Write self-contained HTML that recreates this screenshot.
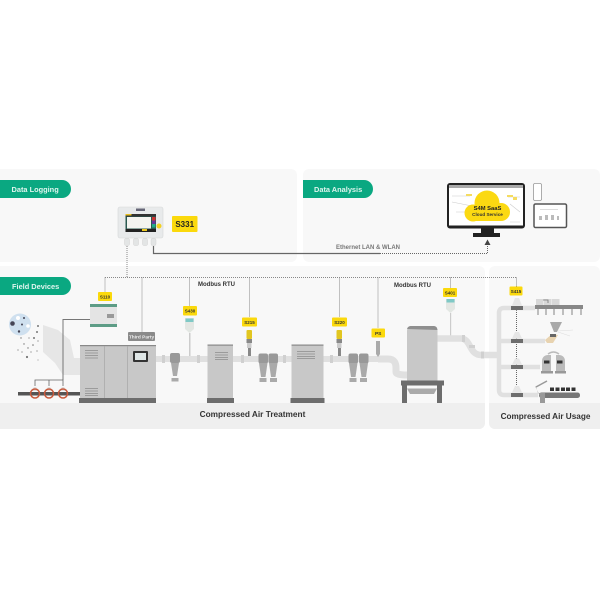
<!DOCTYPE html>
<html><head><meta charset="utf-8"><style>
html,body{margin:0;padding:0;background:#fff}
svg{display:block;filter:blur(0.3px)}
text{font-family:"Liberation Sans",sans-serif}
</style></head><body>
<svg width="600" height="600" viewBox="0 0 600 600" xmlns="http://www.w3.org/2000/svg">
<rect width="600" height="600" fill="#fff"/>
<!-- panels -->
<path d="M0 169H291a6 6 0 0 1 6 6V256a6 6 0 0 1 -6 6H0Z" fill="#f8f8f8"/>
<rect x="303" y="169" width="297" height="93" rx="6" fill="#f8f8f8"/>
<path d="M0 266H479a6 6 0 0 1 6 6V423a6 6 0 0 1 -6 6H0Z" fill="#f8f8f8"/>
<rect x="489" y="266" width="111" height="163" rx="6" fill="#f8f8f8"/>
<path d="M0 403H485V423a6 6 0 0 1 -6 6H0Z" fill="#efefef"/>
<path d="M489 403H600V429H495a6 6 0 0 1 -6 -6Z" fill="#efefef"/>
<!-- green tabs -->
<path d="M0 180H62a9 9 0 0 1 0 18H0Z" fill="#0aa881"/>
<path d="M303 180H364a9 9 0 0 1 0 18H303Z" fill="#0aa881"/>
<path d="M0 277H62a9 9 0 0 1 0 18H0Z" fill="#0aa881"/>
<text x="11.500" y="192" font-size="7.400" font-weight="700" fill="#dff5ee">Data Logging</text>
<text x="314" y="192" font-size="7.400" font-weight="700" fill="#dff5ee">Data Analysis</text>
<text x="12" y="289" font-size="7.400" font-weight="700" fill="#dff5ee">Field Devices</text>
<!-- connectors -->
<path d="M153.500 246V253.500H380" fill="none" stroke="#666" stroke-width="1.200"/>
<path d="M380 253.500H487.500V244" fill="none" stroke="#666" stroke-width="1" stroke-dasharray="1 1"/>
<path d="M487.500 239.500L484.500 245H490.500Z" fill="#444"/>
<g fill="none" stroke="#888" stroke-width="1" stroke-dasharray="1 1">
<path d="M127 246V277"/>
<path d="M105 277.500H516.500"/>
<path d="M105 277.500V292"/>
<path d="M142 277.500V332"/>
<path d="M189.500 277.500V306"/>
<path d="M249.500 277.500V317"/>
<path d="M339.500 277.500V317"/>
<path d="M378 277.500V328"/>
<path d="M450.500 277.500V288"/>
<path d="M516.500 277.500V287"/>
<path d="M516.500 310V392" stroke="#666"/>
</g>
<text x="368" y="249" font-size="6" font-weight="700" fill="#777" text-anchor="middle">Ethernet LAN &amp; WLAN</text>
<text x="216.500" y="286" font-size="6" font-weight="700" fill="#333" text-anchor="middle">Modbus RTU</text>
<text x="412.500" y="287" font-size="6" font-weight="700" fill="#333" text-anchor="middle">Modbus RTU</text>
<text x="252.500" y="417" font-size="8.300" font-weight="700" fill="#333" text-anchor="middle">Compressed Air Treatment</text>
<text x="545.500" y="419" font-size="8.200" font-weight="700" fill="#333" text-anchor="middle">Compressed Air Usage</text>

<!-- S331 device -->
<rect x="118" y="207" width="45" height="31" rx="2" fill="#e8eaeb" stroke="#d5d7d8" stroke-width="0.600"/>
<rect x="136" y="208.500" width="9" height="2.500" fill="#667"/>
<rect x="125.500" y="214" width="30.500" height="18" fill="#2a5a50"/>
<rect x="125.500" y="214" width="30.500" height="2.500" fill="#333"/>
<rect x="127" y="217" width="24" height="11.500" fill="#f4f4f0"/>
<rect x="152" y="217" width="3.500" height="3.500" fill="#c33"/>
<rect x="152" y="220.500" width="3.500" height="3.500" fill="#639"/>
<rect x="152" y="224" width="3.500" height="3.500" fill="#2a8"/>
<rect x="125.500" y="214" width="6" height="1.500" fill="#e8c020"/>
<rect x="125.500" y="229" width="30.500" height="3" fill="#222"/>
<rect x="142" y="229" width="5" height="2" fill="#ecc820"/>
<circle cx="159" cy="226" r="2.500" fill="#f3d020"/>
<g fill="#e3e5e5" stroke="#ccc" stroke-width="0.400">
<rect x="124.500" y="238.500" width="5" height="7" rx="1.500"/>
<rect x="133.500" y="238.500" width="5" height="7" rx="1.500"/>
<rect x="142.500" y="238.500" width="5" height="7" rx="1.500"/>
<rect x="151" y="238.500" width="5" height="7" rx="1.500"/>
</g>
<rect x="172" y="216" width="25.500" height="16" rx="1" fill="#fbd90c"/>
<text x="184.700" y="227" font-size="8" font-weight="700" fill="#222" text-anchor="middle">S331</text>

<!-- monitor -->
<rect x="448" y="184" width="76" height="43.500" rx="2" fill="#fff" stroke="#222" stroke-width="2"/>
<rect x="449" y="185" width="74" height="3" fill="#aaa"/>
<g stroke="#ccc" stroke-width="0.600" fill="none">
<path d="M452 196H470M452 202L472 206M456 212H472M508 197H520M510 204L520 212M510 222H520"/>
</g>
<rect x="466" y="194" width="6" height="2" fill="#f5dc60"/>
<rect x="507" y="195" width="6" height="2" fill="#f5dc60"/>
<rect x="513" y="197" width="4" height="3" fill="#f5dc60"/>
<g fill="#fbd912">
<circle cx="487" cy="203" r="12.500"/>
<circle cx="473" cy="213" r="8.500"/>
<circle cx="501" cy="212" r="9"/>
<rect x="473" y="208" width="28" height="13"/>
</g>
<text x="487.500" y="210" font-size="5.800" font-weight="700" fill="#222" text-anchor="middle">S4M SaaS</text>
<text x="487.500" y="216" font-size="4.600" font-weight="700" fill="#333" text-anchor="middle">Cloud Service</text>
<rect x="449" y="225.500" width="74" height="1.500" fill="#222"/>
<rect x="481" y="228" width="13" height="5.500" fill="#222"/>
<rect x="473" y="233" width="27" height="4" fill="#222"/>
<!-- phone -->
<rect x="533.500" y="183.500" width="8" height="17" rx="1.500" fill="#fff" stroke="#999" stroke-width="0.800"/>
<!-- tablet -->
<rect x="534" y="204" width="32.500" height="23.500" rx="1.500" fill="#fff" stroke="#555" stroke-width="1.500"/>
<g fill="#bbb"><rect x="539" y="216" width="3" height="4"/><rect x="545" y="215" width="3" height="5"/><rect x="551" y="215" width="3" height="5"/><rect x="557" y="216" width="2" height="4"/></g>
<rect x="540" y="209" width="18" height="1" fill="#ddd"/>

<!-- field left -->
<circle cx="20" cy="324.500" r="11" fill="#cfe0ef"/>
<g fill="#445">
<circle cx="12.500" cy="323.500" r="2.300"/><circle cx="19" cy="331.500" r="1.200"/><circle cx="22" cy="324.500" r="1"/><circle cx="24" cy="318" r="1"/>
</g>
<circle cx="18" cy="318" r="2" fill="#fff"/><circle cx="28" cy="326" r="1.800" fill="#fff"/>
<g fill="#777">
<circle cx="38" cy="326" r="1"/><circle cx="37" cy="332" r="1"/><circle cx="34" cy="338" r="1"/><circle cx="29" cy="338" r="0.600"/><circle cx="21" cy="338" r="0.700"/><circle cx="24" cy="344" r="0.700"/><circle cx="33" cy="345" r="0.800"/><circle cx="38" cy="341" r="0.600"/><circle cx="28" cy="348" r="0.700"/><circle cx="27" cy="357" r="1.100"/><circle cx="18" cy="350" r="0.600"/><circle cx="37" cy="351" r="0.600"/><circle cx="31" cy="352" r="0.600"/><circle cx="22" cy="352" r="0.600"/><circle cx="38" cy="360" r="0.500"/>
</g>
<!-- duct -->
<path d="M43 325L58 330L70 340L74 358H80V375H63L55 363L43 352Z" fill="#e6e6e6"/>
<!-- S110 line -->
<path d="M90 319.500H63V380" fill="none" stroke="#777" stroke-width="1"/>
<path d="M35 386V380H63V386M49 380V386" fill="none" stroke="#666" stroke-width="0.800"/>
<rect x="90" y="304" width="27" height="23" fill="#e4e4e4"/>
<rect x="90" y="304" width="27" height="3" fill="#5d9c86"/>
<rect x="90" y="324" width="27" height="3" fill="#5d9c86"/>
<rect x="107" y="314" width="7" height="4" fill="#999"/>
<rect x="98" y="292" width="14" height="9" rx="1" fill="#fbd90c"/>
<text x="105" y="298.500" font-size="4.500" font-weight="700" fill="#333" text-anchor="middle">S110</text>
<rect x="128" y="332" width="27" height="9" rx="1" fill="#8a8a8a"/>
<text x="141.500" y="338.500" font-size="4.800" font-weight="700" fill="#eee" text-anchor="middle">Third Party</text>
<!-- header pipe and nozzles -->
<rect x="18" y="392" width="62" height="3.500" fill="#555"/>
<path d="M34 387L31 391H39L36 387ZM48 387L45 391H53L50 387ZM62 387L59 391H67L64 387Z" fill="#ddd"/>
<g fill="none" stroke="#c85a3c" stroke-width="1.500">
<circle cx="35" cy="393.500" r="4.500"/><circle cx="49" cy="393.500" r="4.500"/><circle cx="63" cy="393.500" r="4.500"/>
</g>
<!-- compressor -->
<rect x="80" y="345" width="76" height="53" fill="#c8c8c8"/>
<rect x="80" y="345" width="76" height="1.200" fill="#888"/>
<path d="M104.500 346V398M127.500 346V398" stroke="#aaa" stroke-width="0.800"/>
<rect x="79" y="398" width="77" height="5" fill="#6d6d6d"/>
<g stroke="#8c8c8c" stroke-width="0.800">
<path d="M85 350.500H98M85 353H98M85 355.500H98M85 358H98"/>
<path d="M85 388.500H98M85 391H98M85 393.500H98M85 395.500H98"/>
</g>
<rect x="133" y="351" width="15" height="11" rx="1" fill="#333"/>
<rect x="135" y="353" width="11" height="7" fill="#dfe6e6"/>
<!-- main pipes -->
<rect x="156" y="356" width="52" height="6" fill="#e0e0e0"/>
<rect x="233" y="356" width="59" height="6" fill="#e0e0e0"/>
<rect x="323" y="356" width="57" height="6" fill="#e0e0e0"/>
<rect x="162" y="355" width="3" height="8" fill="#d0d0d0"/>
<rect x="197" y="355" width="3" height="8" fill="#d0d0d0"/>
<rect x="241" y="355" width="3" height="8" fill="#d0d0d0"/>
<rect x="283" y="355" width="3" height="8" fill="#d0d0d0"/>
<rect x="330" y="355" width="3" height="8" fill="#d0d0d0"/>
<path d="M378 359H388C395 359 396 364 396 368V372Q396 375 407 375" fill="none" stroke="#e0e0e0" stroke-width="7"/>
<!-- filter 1 -->
<rect x="170" y="353" width="10" height="10" rx="2" fill="#999"/>
<path d="M171 363H179L177 376H173Z" fill="#aaa"/>
<rect x="171.500" y="378" width="7" height="3.500" fill="#aaa"/>
<!-- S430 -->
<rect x="183" y="306" width="14" height="9.500" rx="1" fill="#fbd90c"/>
<text x="190" y="312.700" font-size="4.500" font-weight="700" fill="#333" text-anchor="middle">S430</text>
<path d="M185 318H194V329L189.500 333L185 329Z" fill="#e3e7e3"/>
<rect x="185.500" y="318.500" width="8" height="3.500" fill="#7fc9c6"/>
<rect x="189" y="333" width="1.500" height="23" fill="#ccc"/>
<!-- dryer 1 -->
<rect x="207.500" y="345" width="25.500" height="53" fill="#c8c8c8"/>
<rect x="207.500" y="344.500" width="25.500" height="1.200" fill="#888"/>
<rect x="207" y="398" width="27" height="5" fill="#6d6d6d"/>
<g stroke="#8c8c8c" stroke-width="0.700"><path d="M215 352.500H228M215 355H228M215 357.500H228M215 359.500H228"/></g>
<!-- S215 -->
<rect x="242" y="317.500" width="15" height="9" rx="1" fill="#fbd90c"/>
<text x="249.500" y="324" font-size="4.500" font-weight="700" fill="#333" text-anchor="middle">S215</text>
<rect x="246.500" y="330" width="5.500" height="9" rx="1" fill="#e2c620"/>
<rect x="246.500" y="339" width="5.500" height="4" fill="#888"/>
<rect x="247" y="343" width="4.500" height="5" fill="#ccc"/>
<rect x="248" y="348" width="3" height="8" fill="#888"/>
<!-- filters 2 -->
<g fill="#999"><rect x="258.500" y="353.500" width="9.500" height="10" rx="2"/><rect x="268.500" y="353.500" width="9.500" height="10" rx="2"/></g>
<g fill="#aaa"><path d="M259 363H267.500L265.500 377H261Z"/><path d="M269 363H277.500L275.500 377H271Z"/><rect x="259.500" y="378" width="7" height="4"/><rect x="270" y="378" width="7" height="4"/></g>
<!-- dryer 2 -->
<rect x="291.500" y="345" width="32" height="53" fill="#c8c8c8"/>
<rect x="291.500" y="344.500" width="32" height="1.200" fill="#888"/>
<rect x="290.500" y="398" width="34" height="5" fill="#6d6d6d"/>
<g stroke="#8c8c8c" stroke-width="0.700"><path d="M297 351.500H315M297 354H315M297 356.500H315M297 358.500H315"/></g>
<!-- S220 -->
<rect x="332" y="317.500" width="15" height="9" rx="1" fill="#fbd90c"/>
<text x="339.500" y="324" font-size="4.500" font-weight="700" fill="#333" text-anchor="middle">S220</text>
<rect x="336.500" y="330" width="5.500" height="9" rx="1" fill="#e2c620"/>
<rect x="336.500" y="339" width="5.500" height="4" fill="#888"/>
<rect x="337" y="343" width="4.500" height="5" fill="#ccc"/>
<rect x="338" y="348" width="3" height="8" fill="#888"/>
<!-- filters 3 -->
<g fill="#999"><rect x="348.500" y="353.500" width="9.500" height="10" rx="2"/><rect x="359" y="353.500" width="9.500" height="10" rx="2"/></g>
<g fill="#aaa"><path d="M349 363H357.500L355.500 377H351Z"/><path d="M359.500 363H368L366 377H361.500Z"/><rect x="349.500" y="378" width="7" height="4"/><rect x="360" y="378" width="7" height="4"/></g>
<!-- PS -->
<rect x="371.500" y="328.500" width="13.500" height="9" rx="1" fill="#fbd90c"/>
<text x="378.200" y="335" font-size="4.800" font-weight="700" fill="#333" text-anchor="middle">PS</text>
<path d="M376 341H380L380 354L378 357L376 354Z" fill="#aaa"/>
<!-- tank -->
<path d="M407 331C407 327 410 326 412 326H433C436 326 437.500 328 437.500 331V381H407Z" fill="#c8c8c8"/>
<path d="M407 329C408 326 410 326 412 326H433C436 326 437 327 437.500 330Z" fill="#8f8f8f"/>
<path d="M401 380.500H444V385.500H442V403H437V385.500H407V403H402V385.500H401Z" fill="#6d6d6d"/>
<path d="M407 388.500H437L434 394H410Z" fill="#aaa"/>
<!-- S401 -->
<rect x="443" y="288" width="14" height="9" rx="1" fill="#fbd90c"/>
<text x="450" y="294.500" font-size="4.500" font-weight="700" fill="#333" text-anchor="middle">S401</text>
<path d="M446 299H455V309L450.500 313L446 309Z" fill="#e3e7e3"/>
<rect x="446.500" y="299" width="8" height="3.500" fill="#7fc9c6"/>
<rect x="450" y="313" width="1.200" height="23" fill="#ccc"/>
<!-- outlet pipe -->
<path d="M437.500 338.500H461C471 338.500 469 355 481 355H498" fill="none" stroke="#e0e0e0" stroke-width="6.500"/>
<rect x="462" y="335" width="3" height="7" fill="#d0d0d0"/>
<rect x="469" y="345" width="6" height="3" fill="#d0d0d0"/>
<rect x="481" y="351.500" width="3" height="7" fill="#d0d0d0"/>
<!-- usage pipes -->
<path d="M535 308H504Q499 308 499 313V390Q499 395 504 395H538" fill="none" stroke="#e0e0e0" stroke-width="4.500"/>
<path d="M499 341H545M499 367H540" fill="none" stroke="#e0e0e0" stroke-width="4.500"/>
<rect x="511" y="306" width="12" height="4" fill="#6d6d6d"/>
<rect x="511" y="339" width="12" height="4" fill="#6d6d6d"/>
<rect x="511" y="365" width="12" height="4" fill="#6d6d6d"/>
<rect x="511" y="393" width="12" height="4" fill="#6d6d6d"/>
<g fill="#e6e6e6"><path d="M512 305.500L515 298H519L522 305.500Z"/><path d="M512 338.500L515 332H519L522 338.500Z"/><path d="M512 364.500L515 358.500H519L522 364.500Z"/><path d="M512 392.500L515 386H519L522 392.500Z"/></g>
<rect x="509.500" y="286.500" width="13" height="9" rx="1" fill="#fbd90c"/>
<text x="516" y="293" font-size="4.500" font-weight="700" fill="#333" text-anchor="middle">S415</text>
<!-- machine top -->
<rect x="535" y="305" width="48" height="4" fill="#888"/>
<g fill="#d8d8d8"><rect x="536" y="299" width="7.500" height="6"/><rect x="544" y="299" width="7.500" height="6"/><rect x="552" y="299" width="7.500" height="6"/></g>
<path d="M543 300H548V303" stroke="#777" stroke-width="0.800" fill="none"/>
<g stroke="#777" stroke-width="0.900"><path d="M538 309V315M546 309V315M554 309V315M563 309V315M572 309V315M581 309V315"/></g>
<!-- paint gun -->
<path d="M550 322H562L557 332H554Z" fill="#a9a9a9"/>
<path d="M545 340L552 334L558 335L553 343H547Z" fill="#e8d3b0"/>
<rect x="550" y="334" width="6" height="3" fill="#666"/>
<path d="M558 331L573 330M558 332L570 336" stroke="#ddd" stroke-width="0.600"/>
<!-- bottles -->
<path d="M542 371V361C542 357 545 355 548 355H551V371Z" fill="#bbb"/>
<path d="M565 371V361C565 357 562 355 559 355H556V371Z" fill="#bbb"/>
<rect x="544" y="360.500" width="5.500" height="3" fill="#333"/>
<rect x="557" y="360.500" width="5.500" height="3" fill="#333"/>
<path d="M548 354Q553.500 350 559 354" fill="none" stroke="#bbb" stroke-width="1.500"/>
<rect x="541" y="371" width="12" height="2.500" fill="#999"/>
<rect x="555" y="371" width="11" height="2.500" fill="#999"/>
<!-- robot and conveyor -->
<rect x="539" y="392.500" width="41" height="5.500" rx="2.500" fill="#777"/>
<g fill="#333"><rect x="550" y="387.500" width="4" height="3.500"/><rect x="555.500" y="387.500" width="4" height="3.500"/><rect x="561" y="387.500" width="4" height="3.500"/><rect x="566" y="387.500" width="4" height="3.500"/><rect x="571.500" y="387.500" width="4" height="3.500"/></g>
<path d="M536 387L538 393H545V403H540V396L535 386Z" fill="#999"/>
<path d="M536 387L547 381" stroke="#999" stroke-width="1.500" fill="none"/>
</svg>
</body></html>
